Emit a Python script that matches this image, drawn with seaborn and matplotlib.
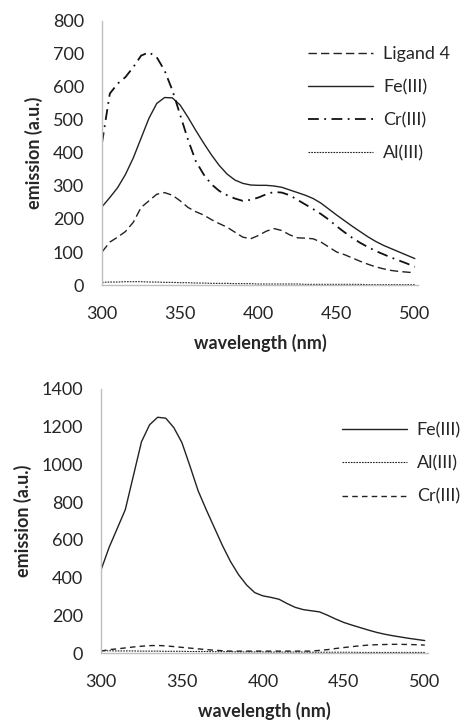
import numpy as np
import matplotlib
matplotlib.use("Agg")
import matplotlib.pyplot as plt
import seaborn as sns

sns.set_style("white")
plt.rcParams['font.family'] = ['Lato', 'DejaVu Sans']

# wavelength grid (nm), 5 nm steps
wavelength = list(range(300, 505, 5))

# ---- top panel ----
ligand4_top = [100, 130, 145, 162, 190, 235, 255, 275, 280, 272,
               255, 235, 222, 212, 198, 186, 175, 160, 145, 140,
               150, 163, 171, 165, 152, 143, 142, 140, 130, 115,
               100, 92, 82, 72, 63, 55, 49, 44, 41, 39, 37]
fe_top = [237, 265, 295, 335, 385, 445, 505, 550, 568, 567,
          545, 508, 468, 430, 394, 362, 336, 318, 308, 303,
          302, 302, 300, 296, 288, 280, 272, 262, 248, 230,
          212, 195, 178, 162, 146, 132, 120, 110, 100, 90, 80]
cr_top = [430, 580, 610, 630, 660, 695, 705, 690, 650, 590,
          515, 440, 375, 335, 305, 285, 272, 262, 255, 258,
          265, 275, 282, 280, 272, 258, 244, 230, 215, 198,
          178, 160, 143, 128, 115, 103, 93, 83, 74, 65, 55]
al_top = [8, 9, 9, 10, 10, 10, 9, 9, 8, 8,
          7, 7, 6, 6, 5, 5, 5, 4, 4, 4,
          3, 3, 3, 3, 3, 3, 2, 2, 2, 2,
          2, 2, 2, 2, 1, 1, 1, 1, 1, 1, 1]

# ---- bottom panel ----
fe_bot = [440, 560, 660, 760, 940, 1120, 1210, 1250, 1245, 1195,
          1115, 990, 860, 760, 665, 570, 485, 415, 360, 320,
          303, 295, 285, 262, 242, 230, 224, 218, 200, 180,
          162, 148, 135, 122, 110, 100, 92, 85, 78, 72, 66]
al_bot = [12, 12, 11, 11, 11, 10, 10, 10, 9, 9,
          9, 8, 8, 8, 7, 7, 7, 6, 6, 6,
          6, 5, 5, 5, 5, 5, 4, 4, 4, 4,
          4, 4, 3, 3, 3, 3, 3, 3, 3, 3, 3]
cr_bot = [10, 18, 22, 27, 32, 36, 39, 40, 38, 34,
          30, 26, 22, 18, 15, 12, 10, 10, 10, 10,
          10, 10, 10, 10, 10, 10, 10, 14, 18, 24,
          29, 34, 38, 42, 44, 45, 46, 46, 45, 44, 42]

text_col = '#262626'
spine_col = '#bfbfbf'
fs = 13

fig = plt.figure(figsize=(4.67, 7.23), dpi=100)
ax1 = fig.add_axes([0.2184, 0.6058, 0.895 - 0.2184, 0.971 - 0.6058])
ax2 = fig.add_axes([0.2163, 0.0968, 0.9165 - 0.2163, 0.462 - 0.0968])

sns.lineplot(x=wavelength, y=ligand4_top, ax=ax1, color='#222222', lw=1.0,
             linestyle=(0, (6, 3)), label='Ligand 4')
sns.lineplot(x=wavelength, y=fe_top, ax=ax1, color='#222222', lw=1.0, label='Fe(III)')
sns.lineplot(x=wavelength, y=cr_top, ax=ax1, color='#111111', lw=1.3,
             linestyle=(0, (6, 3, 1, 3)), label='Cr(III)')
sns.lineplot(x=wavelength, y=al_top, ax=ax1, color='#222222', lw=0.8,
             linestyle=(0, (1.5, 1)), label='Al(III)')

sns.lineplot(x=wavelength, y=fe_bot, ax=ax2, color='#222222', lw=1.0, label='Fe(III)')
sns.lineplot(x=wavelength, y=al_bot, ax=ax2, color='#222222', lw=0.8,
             linestyle=(0, (1.5, 1)), label='Al(III)')
sns.lineplot(x=wavelength, y=cr_bot, ax=ax2, color='#222222', lw=1.0,
             linestyle=(0, (4, 3)), label='Cr(III)')

for ax, ymax, step in [(ax1, 800, 100), (ax2, 1400, 200)]:
    ax.set_xlim(300, 502)
    ax.set_ylim(0, ymax)
    ax.set_xticks(range(300, 501, 50))
    ax.set_yticks(range(0, ymax + 1, step))
    for s in ['top', 'right']:
        ax.spines[s].set_visible(False)
    for s in ['left', 'bottom']:
        ax.spines[s].set_color(spine_col)
        ax.spines[s].set_linewidth(1.0)
    ax.tick_params(axis='both', which='major', length=4, width=1.0,
                   color=spine_col, labelsize=fs, labelcolor=text_col)
    ax.tick_params(axis='y', pad=9)
    ax.tick_params(axis='x', pad=11)
    ax.set_xlabel('wavelength (nm)', fontsize=fs, fontweight='bold',
                  color=text_col, labelpad=9)
    ax.set_ylabel('emission (a.u.)', fontsize=fs, fontweight='bold',
                  color=text_col, labelpad=7)
    ax.grid(False)

leg_kw = dict(frameon=False, fontsize=fs, handlelength=3.6, handletextpad=0.55,
              labelspacing=0.95, borderpad=0, borderaxespad=0, labelcolor=text_col)
ax1.legend(loc='upper left', bbox_to_anchor=(0.6595, 0.9365),
           bbox_transform=fig.transFigure, **leg_kw)
ax2.legend(loc='upper left', bbox_to_anchor=(0.732, 0.416),
           bbox_transform=fig.transFigure, **leg_kw)

fig.savefig('out.png', dpi=100)
